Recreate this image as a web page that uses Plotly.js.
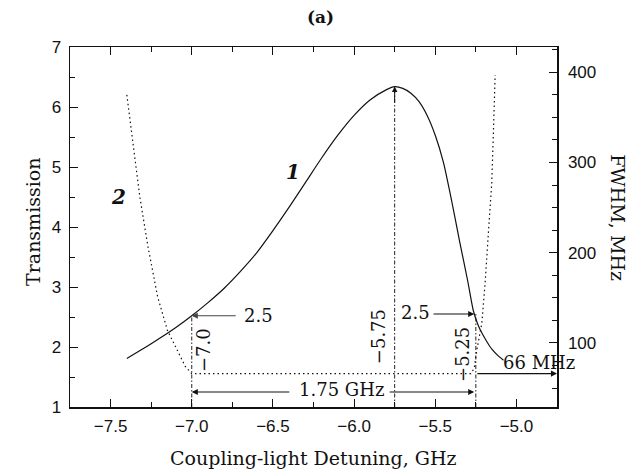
<!DOCTYPE html>
<html>
<head>
<meta charset="utf-8">
<script src="https://cdn.plot.ly/plotly-3.0.1.min.js"></script>
<style>html,body{margin:0;padding:0;background:#fff;}#chart{width:642px;height:472px;}</style>
</head>
<body>
<div id="chart"></div>
<script>
// Curve 1: transmission vs coupling-light detuning (GHz)
const detuning1 = [-7.40, -7.30, -7.20, -7.10, -7.00, -6.90, -6.80, -6.70, -6.60, -6.50, -6.40, -6.30, -6.20, -6.10, -6.00, -5.90, -5.80, -5.75, -5.70, -5.65, -5.60, -5.55, -5.50, -5.45, -5.40, -5.35, -5.30, -5.265, -5.235, -5.21, -5.18, -5.15, -5.115, -5.08];
const transmission1 = [1.81, 1.97, 2.14, 2.32, 2.52, 2.74, 2.98, 3.26, 3.57, 3.94, 4.33, 4.74, 5.15, 5.53, 5.86, 6.12, 6.29, 6.34, 6.31, 6.23, 6.09, 5.86, 5.53, 5.08, 4.45, 3.76, 3.10, 2.60, 2.36, 2.22, 2.08, 1.96, 1.86, 1.78];
// Curve 2: FWHM (MHz) vs detuning
const detuning2 = [-7.40, -7.36, -7.32, -7.27, -7.21, -7.15, -7.09, -7.04, -7.00, -6.50, -6.00, -5.50, -5.28, -5.26, -5.244, -5.213, -5.193, -5.173, -5.152, -5.142, -5.131];
const fwhm2 = [375, 317, 262, 207, 151, 114, 92, 74, 66, 66, 66, 66, 66, 72, 92, 122, 166, 221, 277, 332, 397];
// Marked points
const markDetuning = [-7.0, -5.75, -5.25];
const markTransmission = [2.52, 6.34, 2.55];
const markLabels = ['\u22127.0', '\u22125.75', '\u22125.25'];
const halfLabel = '2.5';
const spanLabel = '1.75 GHz';
const minLabel = '66 MHz';
const fwhmMin = 66;

const serif = 'DejaVu Serif, Liberation Serif, serif';
const sans = 'Liberation Sans, Arial, sans-serif';

const traces = [];
traces.push({x: detuning1, y: transmission1, mode: 'lines', type: 'scatter',
  line: {color: '#111', width: 1.2, shape: 'spline', smoothing: 0.6}, hoverinfo: 'skip', showlegend: false});
traces.push({x: detuning2, y: fwhm2, yaxis: 'y2', mode: 'lines', type: 'scatter',
  line: {color: '#111', width: 1.2, dash: '1.5px,3px'}, hoverinfo: 'skip', showlegend: false});
for (let i = 0; i < markDetuning.length; i++) {
  traces.push({x: [markDetuning[i], markDetuning[i]], y: [1, markTransmission[i]], mode: 'lines', type: 'scatter',
    line: {color: '#222', width: 1, dash: '4px,2px,1.5px,2px'}, hoverinfo: 'skip', showlegend: false});
}

const arrowBase = {showarrow: true, arrowhead: 2, arrowsize: 1.1, arrowwidth: 1.1, arrowcolor: '#111', text: '', standoff: 0, startstandoff: 0};
const txt = (s, x, y, extra) => Object.assign({text: s, x: x, y: y, xref: 'x', yref: 'y', showarrow: false,
  xanchor: 'center', yanchor: 'middle', font: {family: serif, size: 18, color: '#111'}}, extra || {});
const ptxt = (s, x, y, size, extra) => Object.assign({text: s, x: x, y: y, xref: 'paper', yref: 'paper', showarrow: false,
  xanchor: 'center', yanchor: 'middle', font: {family: serif, size: size, color: '#111'}}, extra || {});

const annotations = [
  // axis titles & title
  ptxt('<b>(a)</b>', 0.515, 1.083, 17),
  ptxt('Transmission', -0.076, 0.514, 19, {textangle: -90}),
  ptxt('Coupling-light Detuning, GHz', 0.499, -0.142, 19),
  ptxt('FWHM, MHz', 1.125, 0.525, 19, {textangle: 90}),
  // curve labels
  txt('<b><i>1</i></b>', -6.374, 4.92, {font: {family: serif, size: 20, color: '#111'}}),
  txt('<b><i>2</i></b>', -7.452, 4.50, {font: {family: serif, size: 20, color: '#111'}}),
  // half-level arrows
  txt(halfLabel, -6.59, 2.52),
  Object.assign({}, arrowBase, {xref: 'x', yref: 'y', x: markDetuning[0], y: markTransmission[0], axref: 'x', ayref: 'y', ax: -6.72, ay: markTransmission[0], arrowcolor: '#444'}),
  txt(halfLabel, -5.62, 2.57),
  Object.assign({}, arrowBase, {xref: 'x', yref: 'y', x: markDetuning[2] - 0.01, y: markTransmission[2], axref: 'x', ayref: 'y', ax: -5.52, ay: markTransmission[2]}),
  // peak arrow
  Object.assign({}, arrowBase, {xref: 'x', yref: 'y', x: markDetuning[1], y: markTransmission[1], axref: 'x', ayref: 'y', ax: markDetuning[1], ay: 6.05, arrowwidth: 1}),
  // rotated detuning labels
  txt(markLabels[0], -6.93, 1.95, {textangle: -90}),
  txt(markLabels[1], -5.853, 2.18, {textangle: -90}),
  txt(markLabels[2], -5.337, 1.88, {textangle: -90}),
  // span
  txt(spanLabel, -6.08, 1.29),
  Object.assign({}, arrowBase, {xref: 'x', yref: 'y', x: markDetuning[0], y: 1.25, axref: 'x', ayref: 'y', ax: -6.39, ay: 1.25}),
  Object.assign({}, arrowBase, {xref: 'x', yref: 'y', x: markDetuning[2] - 0.01, y: 1.25, axref: 'x', ayref: 'y', ax: -5.79, ay: 1.25}),
  // 66 MHz
  {text: minLabel, xref: 'x', yref: 'y2', x: -4.86, y: 78, showarrow: false, xanchor: 'center', yanchor: 'middle', font: {family: serif, size: 18, color: '#111'}},
  Object.assign({}, arrowBase, {xref: 'x', yref: 'y2', x: -4.75, y: fwhmMin, axref: 'x', ayref: 'y2', ax: markDetuning[2], ay: fwhmMin})
];

const layout = {
  width: 642, height: 472,
  margin: {l: 70, r: 85, t: 47, b: 65},
  paper_bgcolor: '#fff', plot_bgcolor: '#fff',
  showlegend: false,
  xaxis: {range: [-7.75, -4.75], tickmode: 'linear', tick0: -7.5, dtick: 0.5, tickformat: '.1f',
    ticks: 'inside', ticklen: 8, tickwidth: 1, tickcolor: '#111', showline: true, linecolor: '#111', linewidth: 1.5,
    mirror: 'ticks', showgrid: false, zeroline: false, tickfont: {family: sans, size: 17, color: '#111'}, ticklabelstandoff: 3,
    minor: {dtick: 0.25, ticks: 'inside', ticklen: 5, tickcolor: '#111', showgrid: false}},
  yaxis: {range: [1, 7], tickmode: 'linear', tick0: 1, dtick: 1,
    ticks: 'inside', ticklen: 8, tickwidth: 1, tickcolor: '#111', showline: true, linecolor: '#111', linewidth: 1.5,
    showgrid: false, zeroline: false, tickfont: {family: sans, size: 17, color: '#111'}, ticklabelstandoff: 4,
    minor: {dtick: 0.5, ticks: 'inside', ticklen: 5, tickcolor: '#111', showgrid: false}},
  yaxis2: {range: [29, 428], overlaying: 'y', side: 'right', tickmode: 'linear', tick0: 0, dtick: 100,
    ticks: 'inside', ticklen: 8, tickwidth: 1, tickcolor: '#111', showline: true, linecolor: '#111', linewidth: 1.5,
    showgrid: false, zeroline: false, tickfont: {family: sans, size: 17, color: '#111'}, ticklabelstandoff: 6,
    minor: {dtick: 25, ticks: 'inside', ticklen: 5, tickcolor: '#111', showgrid: false}},
  annotations: annotations
};

Plotly.newPlot('chart', traces, layout, {staticPlot: true, displayModeBar: false});
</script>
</body>
</html>
